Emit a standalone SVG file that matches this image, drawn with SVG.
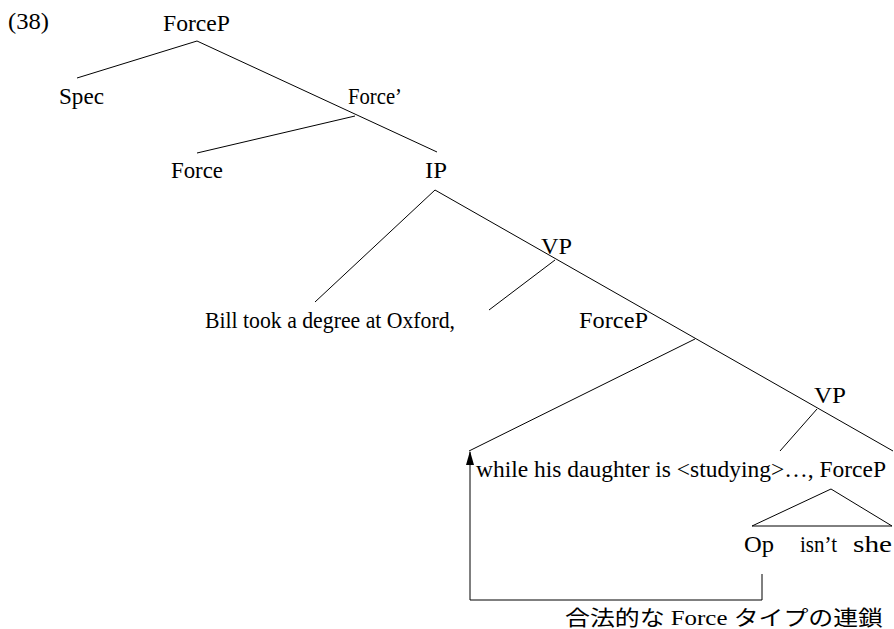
<svg xmlns="http://www.w3.org/2000/svg" width="894" height="629" viewBox="0 0 894 629">
  <style>
    .lbl { font-family: "Liberation Serif", "Times New Roman", serif; font-size: 23px; fill: #000; }
    .jp { font-family: "Liberation Serif", "Noto Sans CJK JP", serif; font-size: 21px; fill: #000; }
    .edge { stroke: #000; stroke-width: 1; fill: none; }
  </style>
  <defs>
    <marker id="head" viewBox="0 0 14 8" refX="13" refY="4" markerWidth="14" markerHeight="8" markerUnits="userSpaceOnUse" orient="auto">
      <path d="M0,0 L14,4 L0,8 Z" fill="#000"/>
    </marker>
  </defs>

  <rect width="894" height="629" fill="#fff"/>

  <text class="lbl" x="8" y="29" textLength="41" lengthAdjust="spacingAndGlyphs">(38)</text>

  <g id="connectors">
    <line class="edge" x1="197" y1="41" x2="77" y2="78"/>
    <line class="edge" x1="197" y1="41" x2="437" y2="152"/>
    <line class="edge" x1="355" y1="116" x2="197" y2="153"/>
    <line class="edge" x1="435" y1="190" x2="315" y2="302"/>
    <line class="edge" x1="435" y1="190" x2="893" y2="451"/>
    <line class="edge" x1="555" y1="260" x2="489" y2="310"/>
    <line class="edge" x1="695" y1="339" x2="469" y2="451"/>
    <line class="edge" x1="817" y1="409" x2="780" y2="451"/>
    <polygon class="edge" points="831,489 752,526 892,526"/>
    <polyline class="edge" points="762,574 762,600 470,600 470,452" marker-end="url(#head)"/>
  </g>

  <g id="forcep-top"><text class="lbl" x="163" y="31" textLength="67" lengthAdjust="spacingAndGlyphs">ForceP</text></g>
  <g id="spec"><text class="lbl" x="59" y="104" textLength="45" lengthAdjust="spacingAndGlyphs">Spec</text></g>
  <g id="force-bar"><text class="lbl" x="348" y="104" textLength="54" lengthAdjust="spacingAndGlyphs">Force’</text></g>
  <g id="force"><text class="lbl" x="171" y="178" textLength="52" lengthAdjust="spacingAndGlyphs">Force</text></g>
  <g id="ip"><text class="lbl" x="425" y="178" textLength="22" lengthAdjust="spacingAndGlyphs">IP</text></g>
  <g id="vp-upper"><text class="lbl" x="541" y="254" textLength="31" lengthAdjust="spacingAndGlyphs">VP</text></g>
  <g id="bill"><text class="lbl" x="205" y="328" textLength="250" lengthAdjust="spacingAndGlyphs">Bill took a degree at Oxford,</text></g>
  <g id="forcep-mid"><text class="lbl" x="579" y="328" textLength="69" lengthAdjust="spacingAndGlyphs">ForceP</text></g>
  <g id="vp-lower"><text class="lbl" x="814" y="403" textLength="32" lengthAdjust="spacingAndGlyphs">VP</text></g>
  <g id="while"><text class="lbl" x="476" y="477" textLength="410" lengthAdjust="spacingAndGlyphs">while his daughter is &lt;studying&gt;…, ForceP</text></g>
  <g id="tag">
    <text class="lbl" x="744" y="552" textLength="30" lengthAdjust="spacingAndGlyphs">Op</text>
    <text class="lbl" x="800" y="552" textLength="37" lengthAdjust="spacingAndGlyphs">isn’t</text>
    <text class="lbl" x="853" y="552" textLength="39" lengthAdjust="spacingAndGlyphs">she</text>
  </g>
  <g id="chain-label"><text class="jp" x="565" y="625" textLength="318" lengthAdjust="spacingAndGlyphs">合法的な Force タイプの連鎖</text></g>
</svg>
